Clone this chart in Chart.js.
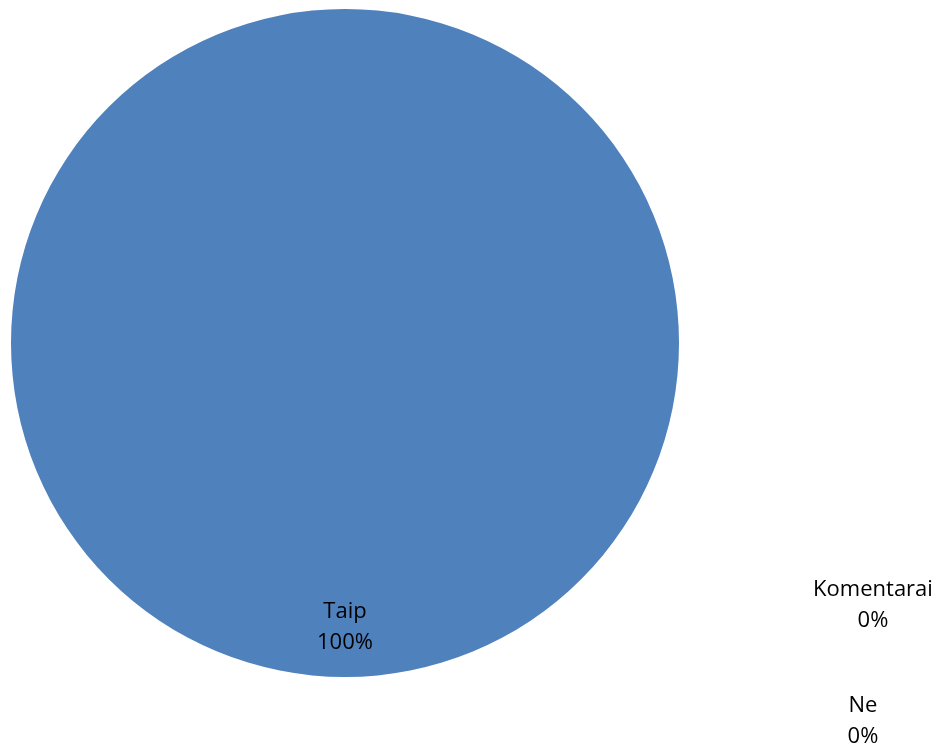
<!DOCTYPE html>
<html>
<head>
<meta charset="utf-8">
<script src="https://cdn.jsdelivr.net/npm/chart.js@4"></script>
<style>
  html, body { margin: 0; padding: 0; background: #fff; }
  #wrap { width: 945px; height: 751px; }
</style>
</head>
<body>
<div id="wrap"><canvas id="pieChart"></canvas></div>
<script>
// Duomenys
const categories = ['Taip', 'Ne', 'Komentarai'];
const values = [100, 0, 0];
const percentLabels = ['100%', '0%', '0%'];
const colors = ['#4F81BD', '#C0504D', '#9BBB59'];

// kur dėti 0% etiketes (Excel jas nustumia į šoną)
const outsideLabelPos = {
    'Komentarai': { x: 873, y: 590 },
    'Ne': { x: 863, y: 706 }
};

const labelFont = '22px "Open Sans", "DejaVu Sans", sans-serif';

const labelPlugin = {
    id: 'pieLabels',
    afterDatasetsDraw(chart) {
        const ctx = chart.ctx;
        const meta = chart.getDatasetMeta(0);
        ctx.save();
        ctx.font = labelFont;
        ctx.fillStyle = '#000';
        ctx.textAlign = 'center';
        ctx.textBaseline = 'middle';
        meta.data.forEach((arc, i) => {
            const name = categories[i];
            let x, y;
            if (values[i] > 0) {
                const mid = (arc.startAngle + arc.endAngle) / 2;
                const r = arc.outerRadius * 0.85;
                x = arc.x + Math.cos(mid) * r;
                y = arc.y + Math.sin(mid) * r - 15;
            } else {
                x = outsideLabelPos[name].x;
                y = outsideLabelPos[name].y;
            }
            ctx.fillText(name, x, y);
            ctx.fillText(percentLabels[i], x, y + 31);
        });
        ctx.restore();
    }
};

const pieCtx = document.getElementById('pieChart').getContext('2d');
const pieChart = new Chart(pieCtx, {
    type: 'pie',
    data: {
        labels: categories,
        datasets: [{
            data: values,
            backgroundColor: colors,
            borderWidth: 0
        }]
    },
    options: {
        responsive: true,
        maintainAspectRatio: false,
        animation: false,
        layout: {
            padding: { left: 11, top: 9, right: 266, bottom: 74 }
        },
        plugins: {
            legend: { display: false },
            tooltip: { enabled: false }
        }
    },
    plugins: [labelPlugin]
});
</script>
</body>
</html>
